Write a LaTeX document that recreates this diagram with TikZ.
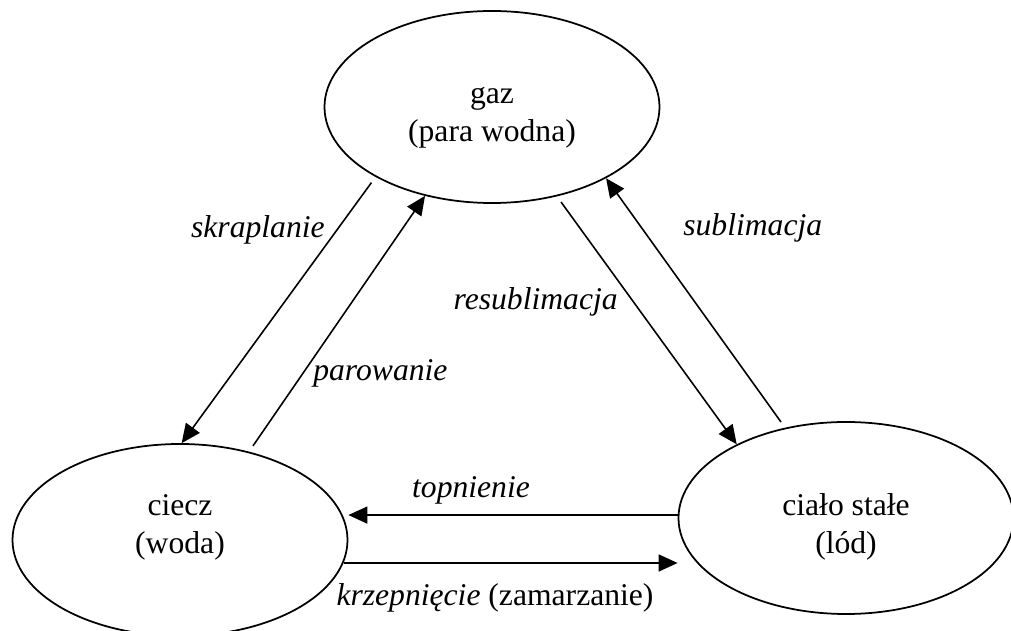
\documentclass[tikz,border=0pt]{standalone}
\usepackage{fontspec}
\setmainfont{Liberation Serif}
\usetikzlibrary{shapes.geometric,arrows.meta}

\begin{document}
\begin{tikzpicture}[
  stan/.style={draw, line width=1pt, ellipse, minimum width=6.7cm, minimum height=3.84cm,
               inner sep=0pt},
  napis/.style={inner sep=0pt, align=center, font=\fontsize{18}{21.6}\selectfont},
  opis/.style={inner sep=0pt, font=\fontsize{18}{21.6}\selectfont\itshape},
  strz/.style={line width=0.9pt, -{Triangle[length=3.8mm,width=3.4mm]}},
  odst/.style={shorten <=1.4mm},
]
\useasboundingbox (0,0) rectangle (20.22,-12.62);
% stany skupienia
\node[stan, label={[napis, yshift=-0.22cm]center:gaz\\(para wodna)}] (gaz) at (9.84,-2.14) {};
\node[stan, label={[napis, yshift=0.26cm]center:ciecz\\(woda)}] (ciecz) at (3.60,-10.80) {};
\node[stan, label={[napis, yshift=-0.18cm]center:ciało stałe\\(lód)}] (cialo) at (16.92,-10.36) {};
% przejscia
\draw[strz, odst] (gaz.211) -- (ciecz.89);
\draw[strz, odst] (ciecz.52) -- (gaz.233);
\draw[strz, odst] (gaz.306.5) -- (cialo.146.3);
\draw[strz, odst] (cialo.124) -- (gaz.328.7);
\draw[strz] (cialo.179) -- (cialo.179 -| ciecz.east);
\draw[strz] (ciecz.352) -- (ciecz.352 -| cialo.west);
% opisy
\node[opis, anchor=east] (skr) at (6.50,-4.60) {skraplanie};
\node[opis, anchor=west] (par) at (6.26,-7.46) {parowanie};
\node[opis, anchor=east] (resub) at (12.36,-6.04) {resublimacja};
\node[opis, anchor=west] (sub) at (13.66,-4.56) {sublimacja};
\node[opis] (top) at (9.42,-9.80) {topnienie};
\node[opis] (krz) at (9.90,-11.96) {krzepnięcie \textup{(zamarzanie)}};
\end{tikzpicture}
\end{document}
